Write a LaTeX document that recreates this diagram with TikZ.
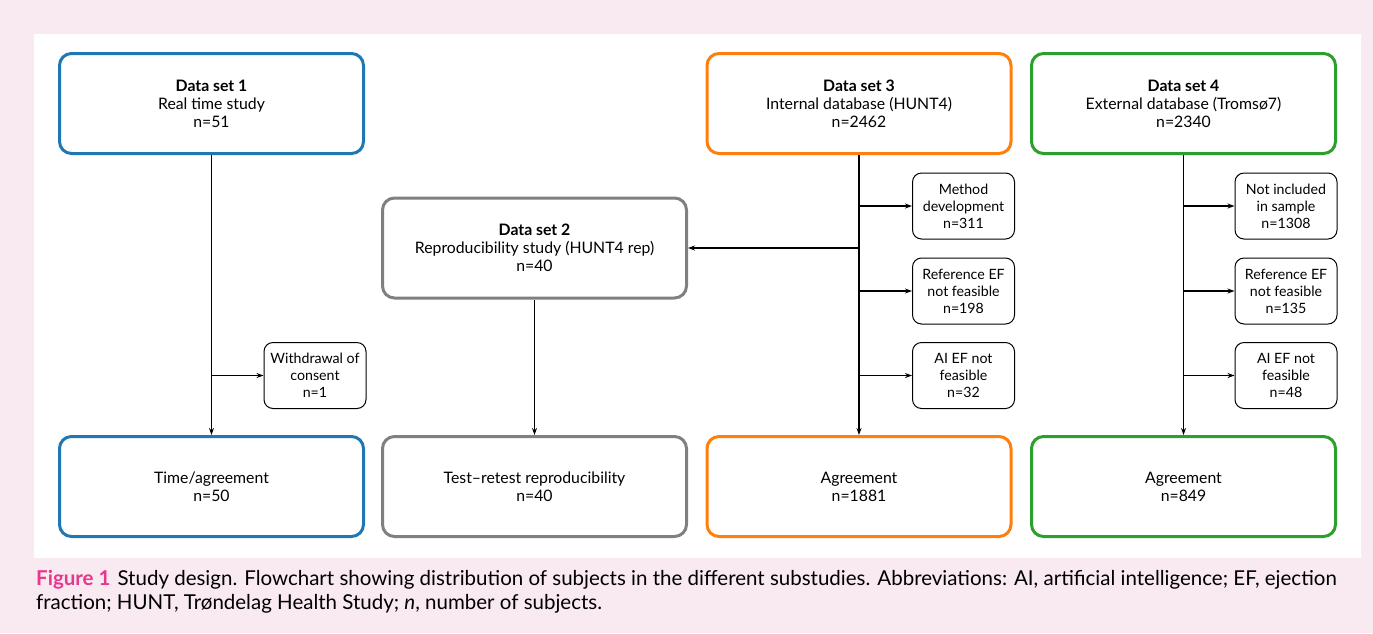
\documentclass[tikz,border=0pt]{standalone}
\usepackage{fontspec}
\setmainfont{Lato}
\usetikzlibrary{arrows.meta}
\definecolor{pinkbg}{RGB}{249,233,240}
\definecolor{figpink}{RGB}{232,56,140}
\definecolor{dsblue}{RGB}{31,119,180}
\definecolor{dsorange}{RGB}{255,127,14}
\definecolor{dsgreen}{RGB}{44,160,44}
\definecolor{dsgray}{RGB}{128,128,128}
\begin{document}
\begin{tikzpicture}[x=1pt,y=-1pt,
  bigbox/.style={draw, line width=3pt, rounded corners=12pt, minimum width=304pt, minimum height=100pt, align=center, font=\fontsize{15.8}{18}\selectfont, fill=white, inner sep=2pt},
  smallbox/.style={draw, line width=1pt, rounded corners=9pt, minimum width=102pt, minimum height=66pt, align=center, font=\fontsize{14.2}{17}\selectfont, fill=white, inner sep=2pt},
  arr/.style={line width=1.4pt, -{Stealth[length=7pt,width=5pt]}}
]
\useasboundingbox (0,0) rectangle (1373,633);
\fill[pinkbg] (0,0) rectangle (1373,633);
\fill[white] (34,34) rectangle (1361,558);

% top boxes
\node[bigbox, draw=dsblue] (ds1) at (211.5,103.5) {\textbf{Data set 1}\\Real time study\\n=51};
\node[bigbox, draw=dsorange] (ds3) at (859,103.5) {\textbf{Data set 3}\\Internal database (HUNT4)\\n=2462};
\node[bigbox, draw=dsgreen] (ds4) at (1183.5,103.5) {\textbf{Data set 4}\\External database (Tromsø7)\\n=2340};
\node[bigbox, draw=dsgray] (ds2) at (534.5,248) {\textbf{Data set 2}\\Reproducibility study (HUNT4 rep)\\n=40};

% bottom boxes
\node[bigbox, draw=dsblue] (ds1b) at (211.5,486.5) {Time/agreement\\n=50};
\node[bigbox, draw=dsgray] (ds2b) at (534.5,486.5) {Test--retest reproducibility\\n=40};
\node[bigbox, draw=dsorange] (ds3b) at (859,486.5) {Agreement\\n=1881};
\node[bigbox, draw=dsgreen] (ds4b) at (1183.5,486.5) {Agreement\\n=849};

% small boxes
\node[smallbox] (w1) at (315,375.5) {Withdrawal of\\consent\\n=1};
\node[smallbox] (m1) at (963.5,206) {Method\\development\\n=311};
\node[smallbox] (m2) at (963.5,291) {Reference EF\\not feasible\\n=198};
\node[smallbox] (m3) at (963.5,375.5) {AI EF not\\feasible\\n=32};
\node[smallbox] (t1) at (1286,206) {Not included\\in sample\\n=1308};
\node[smallbox] (t2) at (1286,291) {Reference EF\\not feasible\\n=135};
\node[smallbox] (t3) at (1286,375.5) {AI EF not\\feasible\\n=48};

% connectors
\draw[arr] (ds1.south) -- (ds1b.north);
\draw[arr] (ds1.south |- w1.west) -- (w1.west);
\draw[arr] (ds2.south) -- (ds2b.north);
\draw[arr] (ds3.south) -- (ds3b.north);
\draw[arr] (ds3.south |- m1.west) -- (m1.west);
\draw[arr] (ds3.south |- m2.west) -- (m2.west);
\draw[arr] (ds3.south |- m3.west) -- (m3.west);
\draw[arr] (ds3.south |- ds2.east) -- (ds2.east);
\draw[arr] (ds4.south) -- (ds4b.north);
\draw[arr] (ds4.south |- t1.west) -- (t1.west);
\draw[arr] (ds4.south |- t2.west) -- (t2.west);
\draw[arr] (ds4.south |- t3.west) -- (t3.west);

% caption
\node[anchor=base west, inner sep=0pt, font=\fontsize{20.5}{24}\selectfont] (cap1) at (36,585) {\textcolor{figpink}{\bfseries Figure 1}\hspace{7pt}Study design. Flowchart showing distribution of subjects in the different substudies. Abbreviations: AI, artificial intelligence; EF, ejection};
\node[anchor=base west, inner sep=0pt, font=\fontsize{20.5}{24}\selectfont] (cap2) at (36,609) {fraction; HUNT, Trøndelag Health Study; \textit{n}, number of subjects.};
\end{tikzpicture}
\end{document}
